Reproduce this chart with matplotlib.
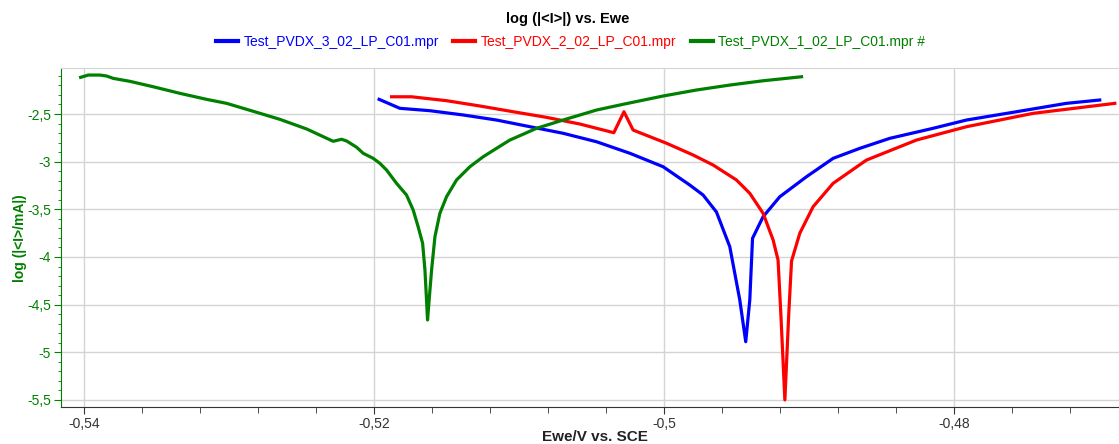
import numpy as np
import matplotlib
matplotlib.use("Agg")
from matplotlib import pyplot as plt
from matplotlib.ticker import MultipleLocator, FuncFormatter

plt.rcParams['font.family'] = ['Liberation Sans', 'DejaVu Sans']

# series 3 (blue)
ewe_3 = [-0.51966, -0.51823, -0.51616, -0.51386, -0.51156, -0.50926, -0.50697,
         -0.50466, -0.50236, -0.50007, -0.49823, -0.49731, -0.49639, -0.49547,
         -0.49478, -0.49437, -0.49409, -0.49390, -0.49317, -0.49202, -0.49018,
         -0.48834, -0.48650, -0.48443, -0.48145, -0.47914, -0.47570, -0.47225,
         -0.46995]
logi_3 = [-2.346, -2.440, -2.465, -2.510, -2.563, -2.633, -2.702,
          -2.791, -2.912, -3.053, -3.245, -3.350, -3.528, -3.892,
          -4.451, -4.889, -4.451, -3.804, -3.577, -3.368, -3.158,
          -2.965, -2.860, -2.755, -2.650, -2.563, -2.476, -2.388,
          -2.353]

# series 2 (red)
ewe_2 = [-0.51880, -0.51742, -0.51501, -0.51270, -0.51041, -0.50811, -0.50581,
         -0.50347, -0.50277, -0.50214, -0.49983, -0.49800, -0.49662, -0.49501,
         -0.49409, -0.49317, -0.49248, -0.49214, -0.49195, -0.49167, -0.49140,
         -0.49121, -0.49064, -0.48972, -0.48834, -0.48604, -0.48259, -0.47914,
         -0.47455, -0.46891]
logi_2 = [-2.319, -2.319, -2.360, -2.416, -2.476, -2.535, -2.605,
          -2.696, -2.476, -2.668, -2.807, -2.930, -3.035, -3.192,
          -3.332, -3.542, -3.822, -4.032, -4.591, -5.500, -4.591,
          -4.042, -3.751, -3.472, -3.227, -2.983, -2.773, -2.633,
          -2.493, -2.388]

# series 1 (green)
ewe_1 = [-0.54025, -0.53972, -0.53892, -0.53846, -0.53800, -0.53685, -0.53524,
         -0.53340, -0.53156, -0.53018, -0.52811, -0.52650, -0.52466, -0.52283,
         -0.52225, -0.52190, -0.52121, -0.52076, -0.52007, -0.51961, -0.51915,
         -0.51846, -0.51777, -0.51731, -0.51697, -0.51666, -0.51650, -0.51639,
         -0.51632, -0.51621, -0.51604, -0.51581, -0.51547, -0.51501, -0.51432,
         -0.51340, -0.51248, -0.51156, -0.51064, -0.50880, -0.50697, -0.50466,
         -0.50283, -0.50007, -0.49777, -0.49547, -0.49317, -0.49052]
logi_1 = [-2.115, -2.091, -2.091, -2.101, -2.126, -2.157, -2.214,
          -2.283, -2.346, -2.388, -2.482, -2.556, -2.657, -2.786,
          -2.765, -2.783, -2.849, -2.912, -2.965, -3.017, -3.087,
          -3.227, -3.350, -3.507, -3.682, -3.856, -4.136, -4.451,
          -4.661, -4.451, -4.136, -3.787, -3.542, -3.368, -3.192,
          -3.053, -2.948, -2.860, -2.773, -2.650, -2.563, -2.458,
          -2.398, -2.311, -2.248, -2.196, -2.151, -2.109]

labels = ["Test_PVDX_3_02_LP_C01.mpr", "Test_PVDX_2_02_LP_C01.mpr",
          "Test_PVDX_1_02_LP_C01.mpr #"]
colors = ["#0000ff", "#ff0000", "#008000"]

fig = plt.figure(figsize=(11.19, 4.44), dpi=100)
ax = fig.add_axes([0.0542, 0.0827, 0.9458, 0.7633])

for x, y, lab, c in zip([ewe_3, ewe_2, ewe_1], [logi_3, logi_2, logi_1], labels, colors):
    ax.plot(x, y, color=c, lw=2.3, label=lab, solid_joinstyle='round')

ax.set_xlim(-0.54163, -0.46862)
ax.set_ylim(-5.577, -2.021)

ax.xaxis.set_major_locator(MultipleLocator(0.02))
ax.xaxis.set_minor_locator(MultipleLocator(0.004))
ax.yaxis.set_major_locator(MultipleLocator(0.5))
ax.yaxis.set_minor_locator(MultipleLocator(0.1))

comma = FuncFormatter(lambda v, p: ("%g" % round(v, 3)).replace(".", ","))
ax.xaxis.set_major_formatter(comma)
ax.yaxis.set_major_formatter(comma)

ax.grid(True, which='major', color='#d4d4d4', lw=1)
ax.set_axisbelow(True)

green = "#008000"
ax.spines['right'].set_visible(False)
ax.spines['top'].set_color('#d4d4d4')
ax.spines['left'].set_color(green)
ax.spines['bottom'].set_color('#333333')
ax.tick_params(axis='y', which='both', colors=green, labelsize=10, pad=2)
ax.tick_params(axis='y', which='major', length=5)
ax.tick_params(axis='y', which='minor', length=2.5)
ax.tick_params(axis='x', which='both', colors='#333333', labelsize=10, pad=2)
ax.tick_params(axis='x', which='major', length=5)
ax.tick_params(axis='x', which='minor', length=4)

ax.set_ylabel("log (|<I>/mA|)", color=green, fontweight='bold', fontsize=10, labelpad=0)
ax.set_xlabel("Ewe/V vs. SCE", color='#222222', fontweight='bold', fontsize=11, labelpad=0)
ax.xaxis.set_label_coords(0.505, -0.066, transform=ax.transAxes)
ax.xaxis.label.set_va('top')

fig.text(0.507, 0.957, "log (|<I>|) vs. Ewe", ha='center', va='center',
         fontweight='bold', fontsize=10.5)
leg = fig.legend(loc='center', bbox_to_anchor=(0.51, 0.905), ncol=3, frameon=False,
                 fontsize=10, handlelength=1.6, handletextpad=0.4, columnspacing=1.0)
for line in leg.get_lines():
    line.set_linewidth(3)
for text, c in zip(leg.get_texts(), colors):
    text.set_color(c)

fig.savefig("out.png", dpi=100)
